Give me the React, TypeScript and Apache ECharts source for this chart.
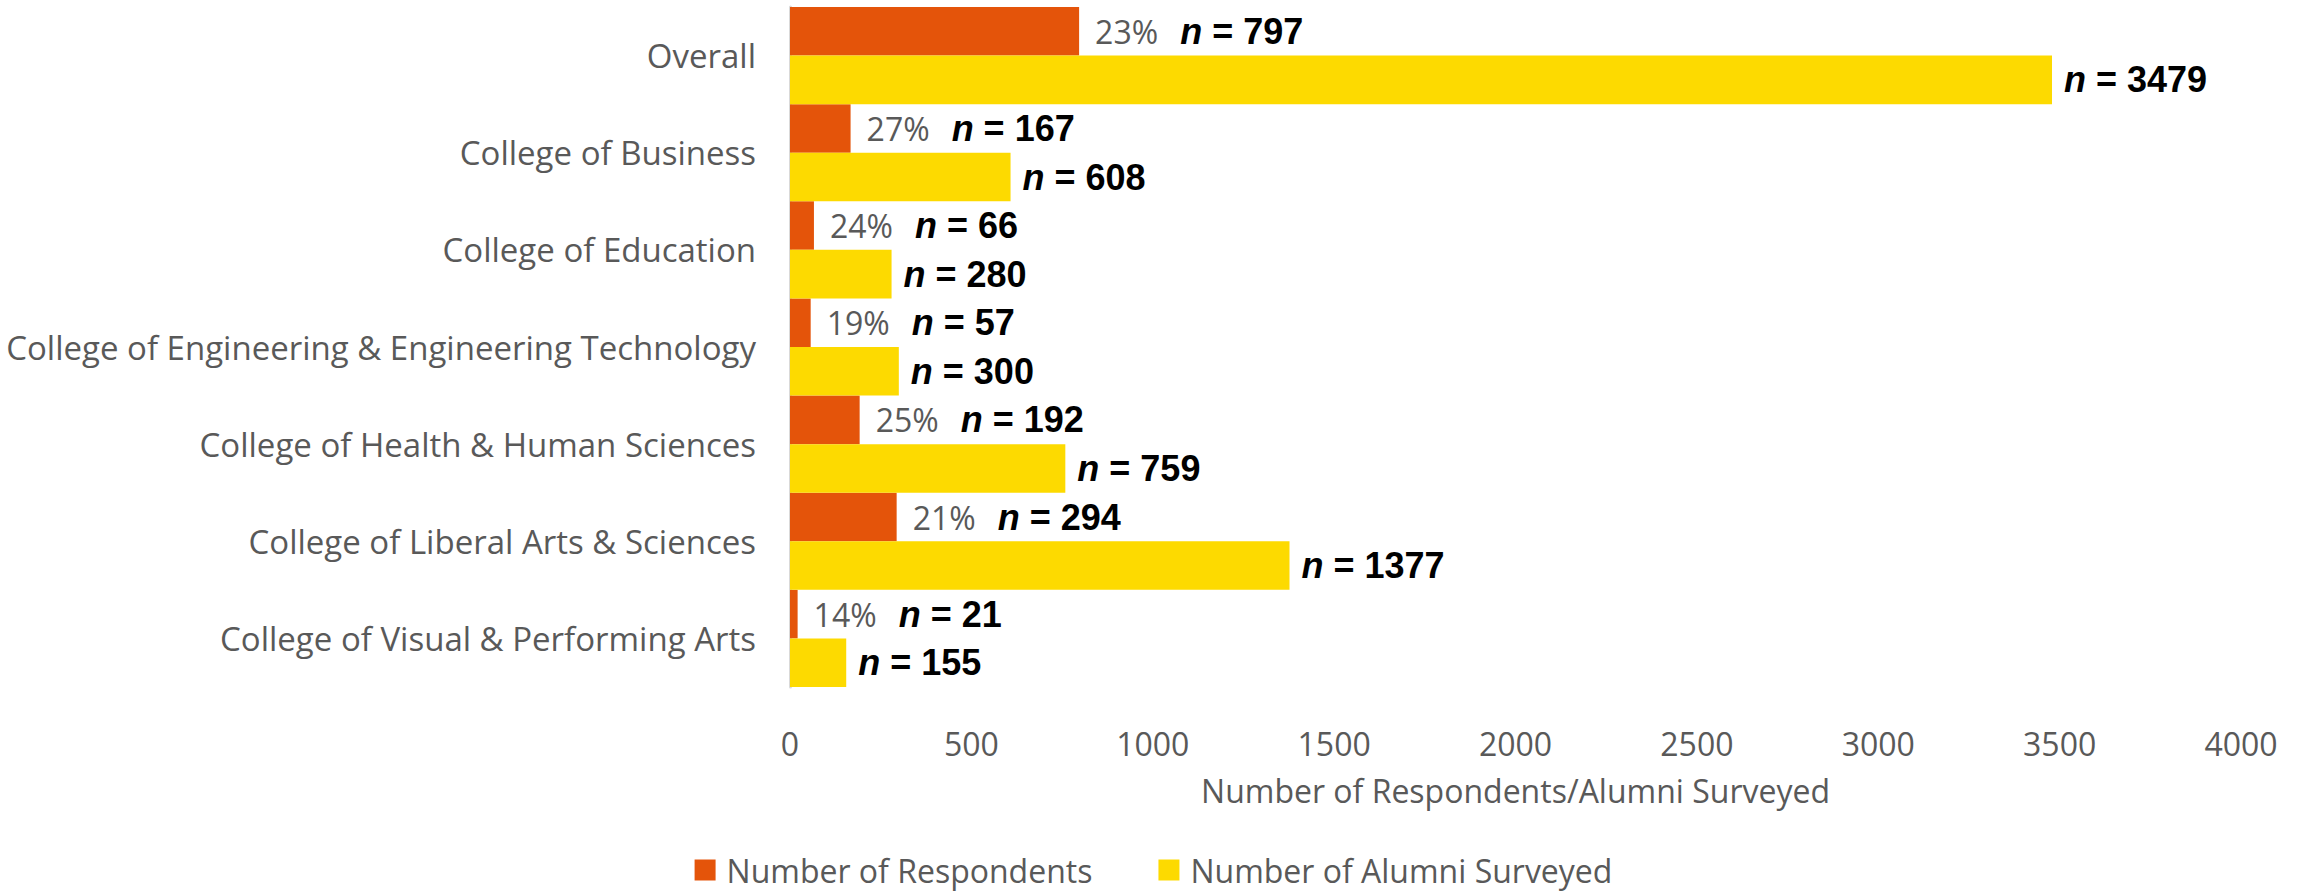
import React, { useEffect, useRef } from "react";
import * as echarts from "echarts";

const categories = [
  "Overall",
  "College of Business",
  "College of Education",
  "College of Engineering & Engineering Technology",
  "College of Health & Human Sciences",
  "College of Liberal Arts & Sciences",
  "College of Visual & Performing Arts",
];
const respondents = [797, 167, 66, 57, 192, 294, 21];
const surveyed = [3479, 608, 280, 300, 759, 1377, 155];
const responseRates = [23, 27, 24, 19, 25, 21, 14];
const xTicks = { min: 0, max: 4000, interval: 500 };

const GREY = "#595959";
const ORANGE = "#E4540A";
const YELLOW = "#FDDA00";
const SANS = "'Open Sans', sans-serif";
const BOLD = "'Liberation Sans', Arial, sans-serif";

export default function App() {
  const ref = useRef<HTMLDivElement>(null);
  useEffect(() => {
    document.body.style.margin = "0";
    if (!ref.current) return;
    const chart = echarts.init(ref.current, null, { renderer: "svg" });
    const richN = {
      p: { fontFamily: SANS, fontSize: 32, color: GREY, padding: [0, 22, 0, 0] },
      ni: { fontFamily: BOLD, fontSize: 36, fontWeight: "bold", fontStyle: "italic", color: "#000" },
      nb: { fontFamily: BOLD, fontSize: 36, fontWeight: "bold", color: "#000" },
    };
    chart.setOption({
      animation: false,
      grid: { left: 790, right: 66, top: 7, bottom: 204, containLabel: false },
      legend: {
        top: 852,
        left: "center",
        padding: 0,
        itemWidth: 21,
        itemHeight: 21,
        itemGap: 66,
        icon: "rect",
        textStyle: { fontFamily: SANS, fontSize: 32, color: GREY, lineHeight: 36, padding: [0, 0, 0, 6] },
        data: ["Number of Respondents", "Number of Alumni Surveyed"],
      },
      xAxis: {
        type: "value",
        min: xTicks.min,
        max: xTicks.max,
        interval: xTicks.interval,
        axisLine: { show: false },
        axisTick: { show: false },
        splitLine: { show: false },
        axisLabel: {
          fontFamily: SANS,
          fontSize: 32,
          color: GREY,
          margin: 40,
          formatter: (v: number) => String(v),
        },
        name: "Number of Respondents/Alumni Surveyed",
        nameLocation: "middle",
        nameGap: 87,
        nameTextStyle: { fontFamily: SANS, fontSize: 32, color: GREY },
      },
      yAxis: {
        type: "category",
        inverse: true,
        data: categories,
        axisLine: { show: true, lineStyle: { color: "#D9D9D9", width: 3 } },
        axisTick: { show: false },
        axisLabel: { fontFamily: SANS, fontSize: 33, color: GREY, margin: 34 },
      },
      series: [
        {
          name: "Number of Respondents",
          type: "bar",
          data: respondents,
          barGap: "0%",
          barCategoryGap: "0%",
          itemStyle: { color: ORANGE },
          label: {
            show: true,
            position: "right",
            distance: 16,
            formatter: (p: any) =>
              `{p|${responseRates[p.dataIndex]}%}{ni|n}{nb| = ${p.value}}`,
            rich: richN,
          },
        },
        {
          name: "Number of Alumni Surveyed",
          type: "bar",
          data: surveyed,
          barGap: "0%",
          barCategoryGap: "0%",
          itemStyle: { color: YELLOW },
          label: {
            show: true,
            position: "right",
            distance: 12,
            formatter: (p: any) => `{ni|n}{nb| = ${p.value}}`,
            rich: richN,
          },
        },
      ],
    });
    return () => chart.dispose();
  }, []);
  return <div ref={ref} style={{ width: 2307, height: 891 }} />;
}
